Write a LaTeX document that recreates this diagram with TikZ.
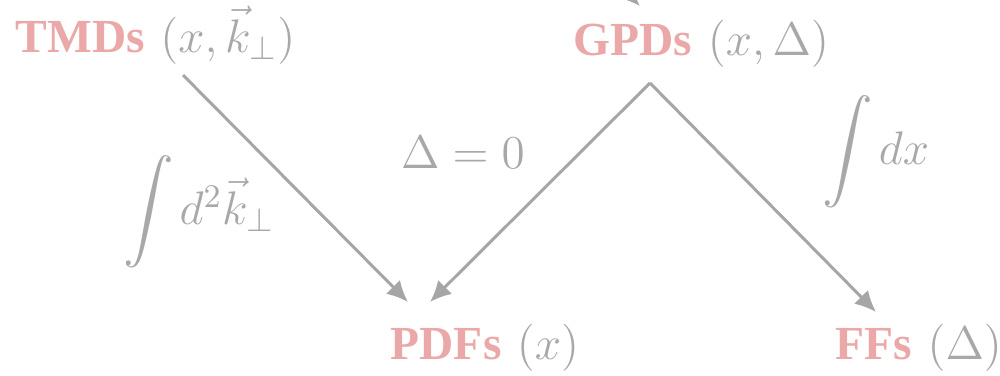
\RequirePackage{fix-cm}
\documentclass[tikz,border=0pt]{standalone}
\usepackage{amsmath}
\usepackage{fontspec}
\usetikzlibrary{arrows.meta}
\newfontfamily\tms{Liberation Serif}
\definecolor{pinkc}{RGB}{235,168,168}
\definecolor{grayc}{RGB}{168,168,168}
\definecolor{linec}{RGB}{166,166,166}
\newcommand{\bw}[1]{{\fontsize{13.5}{16}\selectfont\tms\bfseries\color{pinkc}#1}}
\newcommand{\mth}[1]{{\fontsize{13.4}{16}\selectfont\color{grayc}$#1$}}
\newcommand{\bigint}{{\fontsize{14}{16}\selectfont\color{grayc}$\displaystyle\int$}}
\begin{document}
\begin{tikzpicture}[x=0.01cm,y=-0.01cm,
  lbl/.style={inner sep=0pt,anchor=base west},
  conn/.style={draw=linec,line width=0.85pt,-{Latex[length=6pt,width=5.6pt]}},
  mlabel/.style={inner sep=0pt,text=grayc}]
\useasboundingbox (0,0) rectangle (1000,375);
\clip (0,0) rectangle (1000,375);
\node[lbl] (tmds) at (15,52) {\bw{TMDs}\hspace{4.4pt}\mth{(x,\vec{k}_\perp)}};
\node[lbl] (gpds) at (573,55) {\bw{GPDs}\hspace{4.4pt}\mth{(x,\Delta)}};
\node[lbl] (pdfs) at (390,359) {\bw{PDFs}\hspace{4.4pt}\mth{(x)}};
\node[lbl] (ffs) at (835,359) {\bw{FFs}\hspace{4.4pt}\mth{(\Delta)}};
\node[mlabel] (l1) at (199,212) {\bigint\hspace{1.5pt}\mth{d^2\vec{k}_\perp}};
\node[mlabel] (l2) at (463,152) {\mth{\Delta=0}};
\node[mlabel] (l3) at (876,152) {\bigint\hspace{1.5pt}\mth{dx}};
\coordinate (above) at (560,-74);
\coordinate (apex) at ([shift={(77,28)}]gpds.base west);
\draw[conn] ([shift={(168,23)}]tmds.base west) -- ([shift={(18,-57)}]pdfs.base west);
\draw[conn] (apex) -- ([shift={(40,-57)}]pdfs.base west);
\draw[conn] (apex) -- ([shift={(41,-47)}]ffs.base west);
\draw[conn] (above) -- ([shift={(67,-49)}]gpds.base west);
\end{tikzpicture}
\end{document}
